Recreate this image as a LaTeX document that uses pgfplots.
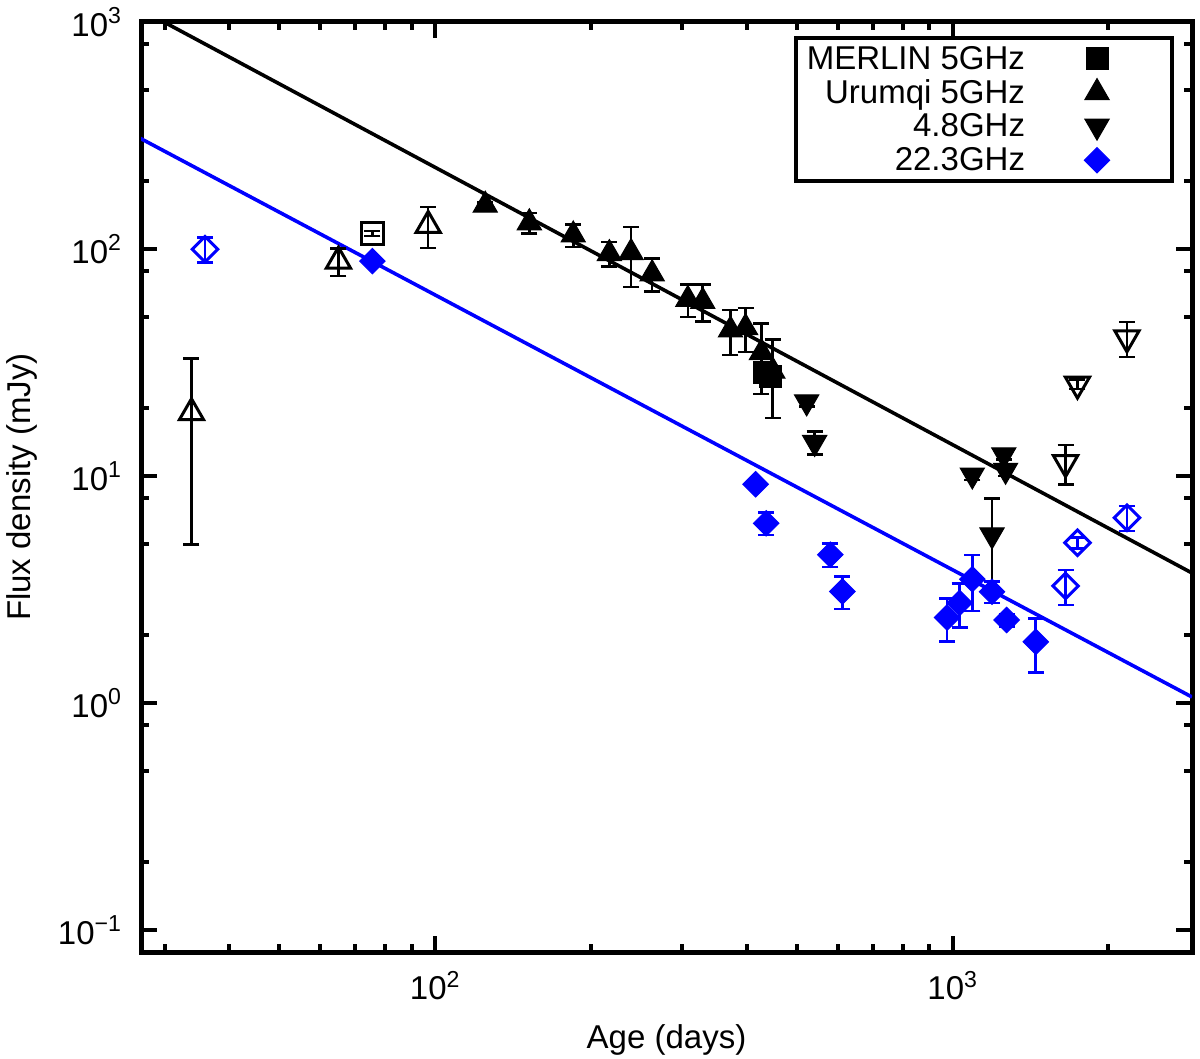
\documentclass[border=0pt]{standalone}
\usepackage{fontspec}
\setmainfont{Liberation Sans}
\usepackage{pgfplots}
\pgfplotsset{compat=1.18}
\newcommand\ff{\fontsize{16.5bp}{19bp}\selectfont}
\newcommand\lentry[1]{\makebox[113bp][r]{\rule[-4.5bp]{0pt}{16.5bp}#1}}
\begin{document}
\begin{tikzpicture}
\useasboundingbox (-70.5bp,-53.5bp) rectangle (529.5bp,476bp);
\begin{loglogaxis}[
  scale only axis, width=525.5bp, height=465bp,
  xmin=27, xmax=2900, ymin=0.08, ymax=1000,
  log basis x=10, log basis y=10,
  axis line style={line width=2.5bp},
  tick align=inside,
  major tick length=7.8bp, minor tick length=3.8bp,
  every tick/.style={black, line width=2bp},
  xtick={100,1000}, xticklabels={10\textsuperscript{2},10\textsuperscript{3}},
  minor xtick={30,40,50,60,70,80,90,200,300,400,500,600,700,800,900,2000},
  ytick={0.1,1,10,100,1000},
  yticklabels={10\textsuperscript{−1},10\textsuperscript{0},10\textsuperscript{1},10\textsuperscript{2},10\textsuperscript{3}},
  minor ytick={0.2,0.5,0.8,2,5,8,20,50,80,200,500,800},
  tick label style={font=\ff},
  xticklabel style={yshift=-6bp},
  yticklabel style={xshift=-6bp},
  xlabel={Age (days)}, ylabel={Flux density (mJy)},
  label style={font=\ff},
  xlabel style={at={(axis description cs:0.5,-0.0946)}, anchor=center},
  ylabel style={at={(axis description cs:-0.1132,0.5)}, anchor=center},
  legend style={at={(1,1)}, anchor=north east, xshift=-9bp, yshift=-7bp,
    draw=black, line width=2bp, inner xsep=1.5bp, inner ysep=3.5bp, font=\ff,
    row sep=3.3bp, column sep=6bp, nodes={inner sep=0pt}},
  legend cell align=right, legend plot pos=right,
  legend image code/.code={\path[draw=none,fill=none] (0bp,-6bp) rectangle (66bp,6bp); \draw[#1] plot coordinates {(30bp,0bp)};},
]
% fitted power laws
\addplot[black, line width=1.8bp, forget plot] coordinates {(29.9,1000) (2899,3.74)};
\addplot[blue, line width=1.8bp, forget plot] coordinates {(26.9,307.5) (2899,1.063)};

% MERLIN 5GHz (filled)
\addplot[black, only marks, mark=square*, mark size=5.5bp, mark options={line width=0.5bp, fill=black},
  error bars/.cd, y dir=both, y explicit, error bar style={line width=1.3bp, black},
  error mark options={rotate=90, mark size=4bp, line width=1.3bp, black}]
  coordinates {(433,28.7) +- (0,2) (444.6,27.5) +- (0,2)};
\addlegendentry{\lentry{MERLIN 5GHz}}

% Urumqi 5GHz (filled)
\addplot[black, only marks, mark=triangle*, mark size=7bp, mark options={line width=0.5bp, fill=black},
  error bars/.cd, y dir=both, y explicit, error bar style={line width=1.3bp, black},
  error mark options={rotate=90, mark size=4bp, line width=1.3bp, black}]
  coordinates {
  (124.9,156) +- (0,4)
  (152,130.5) +- (0,13.5)
  (184.8,115.3) +- (0,13.3)
  (217,95.5) +- (0,12)
  (239,96.5) +- (0,28.5)
  (262.5,77.8) +- (0,13)
  (307.7,60) +- (0,9.8)
  (328.8,58.8) +- (0,11)
  (372,44) +- (0,9.9)
  (397.8,45.1) +- (0,9.9)
  (427,35) +- (0,12)
  (449,29) +- (0,11)
  };
\addlegendentry{\lentry{Urumqi 5GHz}}

% 4.8GHz (filled)
\addplot[black, only marks, mark=triangle*, mark size=7bp, mark options={line width=0.5bp, fill=black, rotate=180},
  error bars/.cd, y dir=both, y explicit, error bar style={line width=1.3bp, black},
  error mark options={rotate=90, mark size=4bp, line width=1.3bp, black}]
  coordinates {
  (522,21.2) +- (0,1)
  (541,14.05) +- (0,1.65)
  (1091,10.1) +- (0,0.5)
  (1255,12.4) +- (0,0.6)
  (1265,10.6) +- (0,0.6)
  (1191,5.5) +- (0,2.46)
  };
\addlegendentry{\lentry{4.8GHz}}

% 22.3GHz (filled)
\addplot[blue, only marks, mark=square*, mark size=4.5bp, mark options={line width=0.5bp, fill=blue, rotate=45},
  error bars/.cd, y dir=both, y explicit, error bar style={line width=1.3bp, blue},
  error mark options={rotate=90, mark size=4bp, line width=1.3bp, blue}]
  coordinates {
  (75.6,88.4) +- (0,2)
  (416,9.2) +- (0,0.3)
  (436,6.19) +- (0,0.7)
  (580,4.5) +- (0,0.53)
  (612,3.1) +- (0,0.5)
  (975,2.38) +- (0,0.51)
  (1031,2.76) +- (0,0.61)
  (1091,3.51) +- (0,0.97)
  (1191,3.09) +- (0,0.33)
  (1271,2.32) +- (0,0.15)
  (1447,1.86) +- (0,0.5)
  };
\addlegendentry{\lentry{22.3GHz}}

% open (excluded) points
\addplot[black, only marks, mark=square, mark size=5.5bp, mark options={line width=1.5bp}, forget plot,
  error bars/.cd, y dir=both, y explicit, error bar style={line width=1.3bp, black},
  error mark options={rotate=90, mark size=4bp, line width=1.3bp, black}]
  coordinates {(75.6,117) +- (0,3)};
\addplot[black, only marks, mark=triangle, mark size=7bp, mark options={line width=1.5bp}, forget plot,
  error bars/.cd, y dir=both, y explicit, error bar style={line width=1.3bp, black},
  error mark options={rotate=90, mark size=4bp, line width=1.3bp, black}]
  coordinates {(33.8,19) +- (0,14) (65,88.4) +- (0,12.4) (96.9,127) +- (0,26)};
\addplot[black, only marks, mark=triangle, mark size=7bp, mark options={line width=1.5bp, rotate=180}, forget plot,
  error bars/.cd, y dir=both, y explicit, error bar style={line width=1.3bp, black},
  error mark options={rotate=90, mark size=4bp, line width=1.3bp, black}]
  coordinates {(1652,11.45) +- (0,2.25) (1742,25.4) +- (0,1.2) (2171,40.6) +- (0,7.1)};
\addplot[blue, only marks, mark=square, mark size=4.5bp, mark options={line width=1.5bp, rotate=45}, forget plot,
  error bars/.cd, y dir=both, y explicit, error bar style={line width=1.3bp, blue},
  error mark options={rotate=90, mark size=4bp, line width=1.3bp, blue}]
  coordinates {(35.9,99.8) +- (0,12.6) (1652,3.28) +- (0,0.58) (1742,5.08) +- (0,0.28) (2171,6.55) +- (0,0.83)};
\end{loglogaxis}
\end{tikzpicture}
\end{document}
